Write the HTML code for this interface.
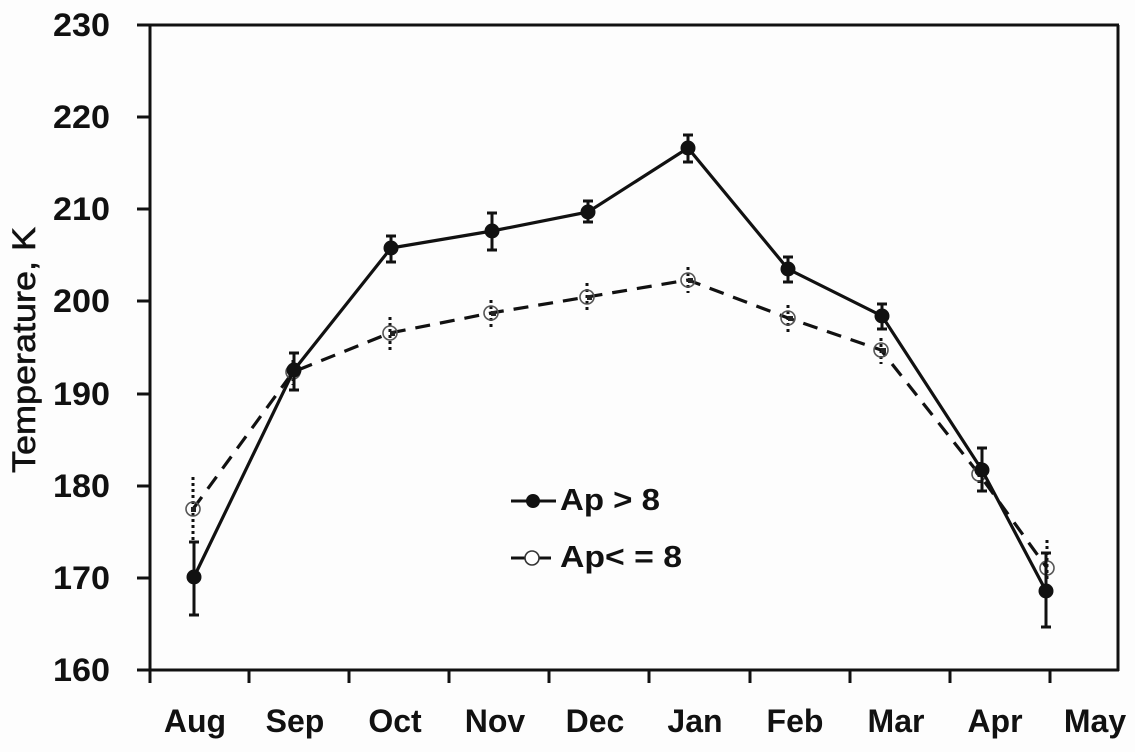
<!DOCTYPE html>
<html>
<head>
<meta charset="utf-8">
<style>
html,body{margin:0;padding:0;background:#fdfdfd;}
svg{display:block;}
text{font-family:"Liberation Sans",Arial,sans-serif;fill:#111;}
</style>
</head>
<body>
<svg width="1135" height="752" viewBox="0 0 1135 752" xmlns="http://www.w3.org/2000/svg">
<rect width="1135" height="752" fill="#fdfdfd"/>
<!-- frame -->
<g stroke="#111" stroke-width="3" fill="none">
<line x1="137" y1="25" x2="1119" y2="25"/>
<line x1="150" y1="25" x2="150" y2="683"/>
<line x1="1118" y1="25" x2="1118" y2="671"/>
<line x1="137" y1="670" x2="1119" y2="670"/>
<!-- y ticks -->
<line x1="137" y1="117" x2="150" y2="117"/>
<line x1="137" y1="209" x2="150" y2="209"/>
<line x1="137" y1="301" x2="150" y2="301"/>
<line x1="137" y1="394" x2="150" y2="394"/>
<line x1="137" y1="486" x2="150" y2="486"/>
<line x1="137" y1="578" x2="150" y2="578"/>
<!-- x ticks -->
<line x1="249" y1="670" x2="249" y2="683"/>
<line x1="349" y1="670" x2="349" y2="683"/>
<line x1="449" y1="670" x2="449" y2="683"/>
<line x1="549" y1="670" x2="549" y2="683"/>
<line x1="649" y1="670" x2="649" y2="683"/>
<line x1="750" y1="670" x2="750" y2="683"/>
<line x1="850" y1="670" x2="850" y2="683"/>
<line x1="950" y1="670" x2="950" y2="683"/>
<line x1="1050" y1="670" x2="1050" y2="683"/>
</g>
<!-- y tick labels -->
<g font-size="32" font-weight="bold">
<text x="53" y="36" textLength="57" lengthAdjust="spacingAndGlyphs">230</text>
<text x="53" y="128" textLength="57" lengthAdjust="spacingAndGlyphs">220</text>
<text x="53" y="220" textLength="57" lengthAdjust="spacingAndGlyphs">210</text>
<text x="53" y="312" textLength="57" lengthAdjust="spacingAndGlyphs">200</text>
<text x="53" y="405" textLength="57" lengthAdjust="spacingAndGlyphs">190</text>
<text x="53" y="497" textLength="57" lengthAdjust="spacingAndGlyphs">180</text>
<text x="53" y="589" textLength="57" lengthAdjust="spacingAndGlyphs">170</text>
<text x="53" y="681" textLength="57" lengthAdjust="spacingAndGlyphs">160</text>
</g>
<!-- x labels -->
<g font-size="32" font-weight="bold" text-anchor="middle">
<text x="195" y="732">Aug</text>
<text x="295" y="732">Sep</text>
<text x="395" y="732">Oct</text>
<text x="495" y="732">Nov</text>
<text x="595" y="732">Dec</text>
<text x="695" y="732">Jan</text>
<text x="795" y="732">Feb</text>
<text x="896" y="732">Mar</text>
<text x="995" y="732">Apr</text>
<text x="1095" y="732">May</text>
</g>
<!-- y title -->
<text transform="translate(35,473) rotate(-90)" font-size="32" stroke="#111" stroke-width="0.6" textLength="246" lengthAdjust="spacingAndGlyphs">Temperature, K</text>

<!-- open series dashed line -->
<polyline fill="none" stroke="#111" stroke-width="3.2" stroke-dasharray="15 10"
 points="193,509 293,372 390,333 491,313 587,297 688,280 788,318 881,350 979,474 1047,568"/>
<!-- open error bars dotted -->
<g stroke="#111" stroke-width="3" stroke-dasharray="3 3" fill="none">
<line x1="193" y1="477" x2="193" y2="542"/>
<line x1="293" y1="360" x2="293" y2="385"/>
<line x1="390" y1="317" x2="390" y2="352"/>
<line x1="491" y1="300" x2="491" y2="328"/>
<line x1="587" y1="283" x2="587" y2="312"/>
<line x1="688" y1="267" x2="688" y2="293"/>
<line x1="788" y1="305" x2="788" y2="332"/>
<line x1="881" y1="338" x2="881" y2="364"/>
<line x1="979" y1="462" x2="979" y2="486"/>
<line x1="1047" y1="540" x2="1047" y2="582"/>
</g>
<!-- open markers -->
<g fill="none" stroke="#555" stroke-width="1.6">
<circle cx="193" cy="509" r="7"/>
<circle cx="293" cy="372" r="7"/>
<circle cx="390" cy="333" r="7"/>
<circle cx="491" cy="313" r="7"/>
<circle cx="587" cy="297" r="7"/>
<circle cx="688" cy="280" r="7"/>
<circle cx="788" cy="318" r="7"/>
<circle cx="881" cy="350" r="7"/>
<circle cx="979" cy="474" r="7"/>
<circle cx="1047" cy="568" r="7"/>
</g>
<g fill="#222">
<rect x="191" y="507" width="5" height="5"/>
<rect x="390" y="331" width="5" height="5"/>
<rect x="491" y="311" width="5" height="5"/>
<rect x="587" y="295" width="5" height="5"/>
<rect x="688" y="278" width="5" height="5"/>
<rect x="788" y="316" width="5" height="5"/>
<rect x="881" y="348" width="5" height="5"/>
</g>

<!-- filled series solid line -->
<polyline fill="none" stroke="#111" stroke-width="3.2"
 points="194,577 294,370 391,248 492,231 588,212 688,148 788,269 882,316 982,470 1046,591"/>
<!-- filled error bars -->
<g stroke="#111" stroke-width="3" fill="none">
<path d="M194 542V615M189 542H199M189 615H199"/>
<path d="M294 353V390M289 353H299M289 390H299"/>
<path d="M391 236V262M386 236H396M386 262H396"/>
<path d="M492 213V250M487 213H497M487 250H497"/>
<path d="M588 201V222M583 201H593M583 222H593"/>
<path d="M688 135V162M683 135H693M683 162H693"/>
<path d="M788 257V282M783 257H793M783 282H793"/>
<path d="M882 304V329M877 304H887M877 329H887"/>
<path d="M982 448V491M977 448H987M977 491H987"/>
<path d="M1046 553V627M1041 553H1051M1041 627H1051"/>
</g>
<g fill="#111">
<circle cx="194" cy="577" r="7.5"/>
<circle cx="294" cy="370" r="7.5"/>
<circle cx="391" cy="248" r="7.5"/>
<circle cx="492" cy="231" r="7.5"/>
<circle cx="588" cy="212" r="7.5"/>
<circle cx="688" cy="148" r="7.5"/>
<circle cx="788" cy="269" r="7.5"/>
<circle cx="882" cy="316" r="7.5"/>
<circle cx="982" cy="470" r="7.5"/>
<circle cx="1046" cy="591" r="7.5"/>
</g>

<!-- legend -->
<line x1="511" y1="501" x2="556" y2="501" stroke="#111" stroke-width="3"/>
<circle cx="533" cy="501" r="7" fill="#111"/>
<text x="560" y="510" font-size="31" font-weight="bold" textLength="100" lengthAdjust="spacingAndGlyphs">Ap &gt; 8</text>
<line x1="511" y1="558" x2="551" y2="558" stroke="#111" stroke-width="3"/>
<circle cx="532" cy="558" r="7" fill="#fff" stroke="#333" stroke-width="1.6"/>
<text x="560" y="567" font-size="31" font-weight="bold" textLength="122" lengthAdjust="spacingAndGlyphs">Ap&lt; = 8</text>
</svg>
</body>
</html>
